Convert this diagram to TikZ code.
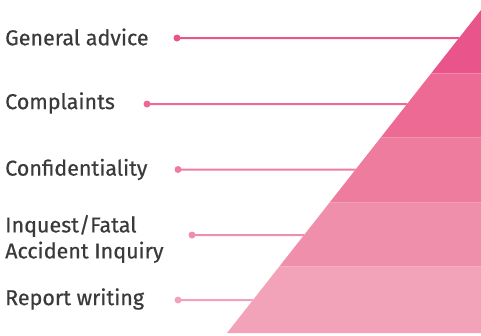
\documentclass[tikz,border=0pt]{standalone}
\usepackage{fontspec}
\setmainfont{Fira Sans}[BoldFont={Fira Sans},BoldFeatures={FakeBold=0.5}]
\usetikzlibrary{calc}
\definecolor{bandA}{HTML}{E9548B}
\definecolor{bandB}{HTML}{EC6A94}
\definecolor{bandC}{HTML}{EE7C9E}
\definecolor{bandD}{HTML}{F08FAC}
\definecolor{bandE}{HTML}{F2A3BA}
\definecolor{labelgrey}{HTML}{3A3A3A}
\begin{document}
\begin{tikzpicture}[x=1pt,y=-1pt,
  lbl/.style={anchor=west,inner sep=0pt,text=labelgrey,font=\bfseries\fontsize{21.5}{26}\selectfont,align=left},
  pin/.style={circle,fill=#1,inner sep=0pt,minimum size=7pt},
  leader/.style={draw=#1,line width=2pt}]
\useasboundingbox (0,0) rectangle (481,335);
% pyramid outline
\coordinate (apex) at (481,10);
\coordinate (foot) at (227,333);
% points on the sloped edge at a given height
\newcommand{\edgeat}[2]{\coordinate (#1) at ($(apex)!{(#2-10)/323}!(foot)$);}
\edgeat{e1}{38}
\edgeat{e2}{104}
\edgeat{e3}{169.5}
\edgeat{e4}{235}
\edgeat{e5}{300}
% leader lines (drawn first, the pyramid covers their ends)
\node[pin=bandA] (d1) at (177,38) {};
\node[pin=bandB] (d2) at (147,104) {};
\node[pin=bandC] (d3) at (178,169.5) {};
\node[pin=bandD] (d4) at (192,235) {};
\node[pin=bandE] (d5) at (178,300) {};
\draw[leader=bandA] (d1.center) -- (e1);
\draw[leader=bandB] (d2.center) -- (e2);
\draw[leader=bandC] (d3.center) -- (e3);
\draw[leader=bandD] (d4.center) -- (e4);
\draw[leader=bandE] (d5.center) -- (e5);
% pyramid bands
\edgeat{b1}{73.3}
\edgeat{b2}{137.5}
\edgeat{b3}{202.7}
\edgeat{b4}{266.5}
\fill[bandA] (apex) -- (b1) -- (481,73.3) -- cycle;
\fill[bandB] (b1) -- (b2) -- (481,137.5) -- (481,73.3) -- cycle;
\fill[bandC] (b2) -- (b3) -- (481,202.7) -- (481,137.5) -- cycle;
\fill[bandD] (b3) -- (b4) -- (481,266.5) -- (481,202.7) -- cycle;
\fill[bandE] (b4) -- (foot) -- (481,333) -- (481,266.5) -- cycle;
% labels
\node[lbl] (t1) at (5,37) {General advice};
\node[lbl] (t2) at (5,103) {Complaints};
\node[lbl] (t3) at (5,169.5) {Confidentiality};
\node[lbl] (t4) at (5,239) {Inquest/Fatal\\Accident Inquiry};
\node[lbl] (t5) at (5,299) {Report writing};
\end{tikzpicture}
\end{document}
